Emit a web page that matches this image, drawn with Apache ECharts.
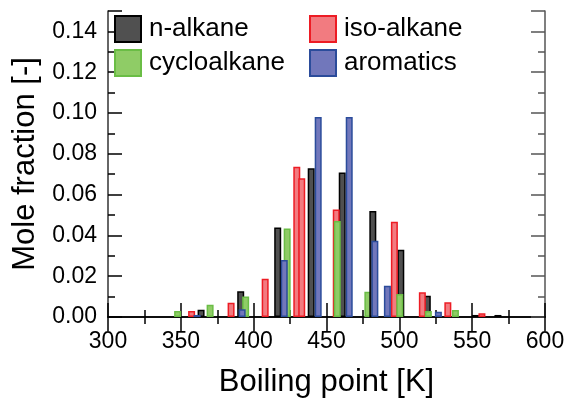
<!DOCTYPE html>
<html>
<head>
<meta charset="utf-8">
<script src="https://cdn.jsdelivr.net/npm/echarts@6/dist/echarts.min.js"></script>
<style>html,body{margin:0;padding:0;background:#fff}#c{width:571px;height:403px}</style>
</head>
<body>
<div id="c"></div>
<script>
// Boiling point [K] and mole fraction [-] per hydrocarbon class
var nAlkaneBp   = [363.9, 391.1, 416.5, 439.5, 460.8, 481.8, 501.0, 519.2, 552.2, 567.7];
var nAlkaneFrac = [0.0036, 0.0126, 0.0439, 0.0729, 0.0708, 0.052, 0.033, 0.0104, 0.001, 0.001];
var isoAlkaneBp   = [357.4, 384.5, 407.9, 429.6, 433.0, 456.7, 496.6, 515.8, 533.3, 556.7];
var isoAlkaneFrac = [0.003, 0.007, 0.0188, 0.0736, 0.068, 0.0527, 0.0467, 0.0121, 0.0072, 0.0018];
var cycloBp   = [347.8, 370.1, 394.5, 423.0, 457.4, 478.4, 500.3, 519.9, 538.5];
var cycloFrac = [0.003, 0.006, 0.0101, 0.0434, 0.047, 0.0124, 0.0113, 0.003, 0.0034];
var aromBp   = [361.2, 392.1, 421.0, 444.3, 465.6, 483.2, 491.8, 526.8];
var aromFrac = [0.001, 0.0038, 0.0279, 0.098, 0.098, 0.0374, 0.0153, 0.0026];
var xTicks = [300, 350, 400, 450, 500, 550, 600];
var yTicks = [0.00, 0.02, 0.04, 0.06, 0.08, 0.10, 0.12, 0.14];
// cycloalkane bars that sit behind the n-alkane bars in the original drawing order
var cycloBehindIdx = [5];

function pairs(xs, ys, keep) {
  var out = [];
  xs.forEach(function (x, i) { if (!keep || keep(i)) out.push([x, ys[i]]); });
  return out;
}

var FONT = '"Liberation Sans", Arial, sans-serif';
var chart = echarts.init(document.getElementById('c'));

function barSeries(name, data, fill, border, z) {
  return {
    name: name, type: 'bar', xAxisIndex: 0, yAxisIndex: 0, z: z || 2,
    data: data, barWidth: 7, barGap: '-100%',
    itemStyle: { color: fill, borderColor: border, borderWidth: 1.5 },
    emphasis: { disabled: true }, animation: false
  };
}
function legendAt(name, left, top) {
  return {
    data: [name], left: left, top: top, icon: 'rect', itemWidth: 26, itemHeight: 26,
    padding: 0, selectedMode: false,
    textStyle: { fontFamily: FONT, fontSize: 26, color: '#000', padding: [0, 0, 0, 3] }
  };
}
var tickCommon = { inside: true, length: 14, lineStyle: { color: '#000', width: 1.5 } };
var minorCommon = { show: true, splitNumber: 2, length: 7, lineStyle: { color: '#000', width: 1.5 } };

chart.setOption({
  backgroundColor: '#fff',
  animation: false,
  grid: { left: 108, right: 26, top: 11, bottom: 85 },
  legend: [
    legendAt('n-alkane', 114, 15),
    legendAt('iso-alkane', 309, 15),
    legendAt('cycloalkane', 114, 49),
    legendAt('aromatics', 309, 49)
  ],
  xAxis: [{
    type: 'value', position: 'bottom', min: xTicks[0], max: xTicks[xTicks.length - 1], interval: 50,
    name: 'Boiling point [K]', nameLocation: 'middle', nameGap: 50,
    nameTextStyle: { fontFamily: FONT, fontSize: 31, color: '#000' },
    axisLine: { show: true, lineStyle: { color: '#000', width: 1.5 } },
    axisTick: tickCommon, minorTick: minorCommon, splitLine: { show: false },
    axisLabel: { fontFamily: FONT, fontSize: 23, color: '#000', margin: 13 }
  }, {
    type: 'value', position: 'top', min: xTicks[0], max: xTicks[xTicks.length - 1], interval: 50,
    axisLine: { show: true, lineStyle: { color: '#000', width: 1.5 } },
    axisTick: tickCommon, minorTick: minorCommon, splitLine: { show: false },
    axisLabel: { show: false }
  }],
  yAxis: [{
    type: 'value', position: 'left', min: 0, max: 0.15, interval: 0.02,
    name: 'Mole fraction [-]', nameLocation: 'middle', nameGap: 66, nameRotate: 90,
    nameTextStyle: { fontFamily: FONT, fontSize: 31, color: '#000' },
    axisLine: { show: true, lineStyle: { color: '#333', width: 1.5 } },
    axisTick: tickCommon, minorTick: minorCommon, splitLine: { show: false },
    axisLabel: {
      fontFamily: FONT, fontSize: 23, color: '#000', margin: 11, showMaxLabel: false,
      formatter: function (v) { return yTicks.indexOf(Math.round(v * 100) / 100) >= 0 ? v.toFixed(2) : ''; }
    }
  }, {
    type: 'value', position: 'right', min: 0, max: 0.15, interval: 0.02,
    axisLine: { show: true, lineStyle: { color: '#555', width: 1.5 } },
    axisTick: { inside: true, length: 14, lineStyle: { color: '#555', width: 1.5 } },
    minorTick: { show: true, splitNumber: 2, length: 7, lineStyle: { color: '#555', width: 1.5 } },
    splitLine: { show: false }, axisLabel: { show: false }
  }],
  series: [
    barSeries('n-alkane', pairs(nAlkaneBp, nAlkaneFrac), '#505050', '#000000'),
    barSeries('iso-alkane', pairs(isoAlkaneBp, isoAlkaneFrac), '#f27b80', '#ed1c24'),
    barSeries('cycloalkane', pairs(cycloBp, cycloFrac, function (i) { return cycloBehindIdx.indexOf(i) < 0; }), '#8fcc66', '#6abd45'),
    barSeries('aromatics', pairs(aromBp, aromFrac), '#7177bb', '#2b4c9b'),
    barSeries('cycloalkane', pairs(cycloBp, cycloFrac, function (i) { return cycloBehindIdx.indexOf(i) >= 0; }), '#8fcc66', '#6abd45', 1)
  ]
});
</script>
</body>
</html>
